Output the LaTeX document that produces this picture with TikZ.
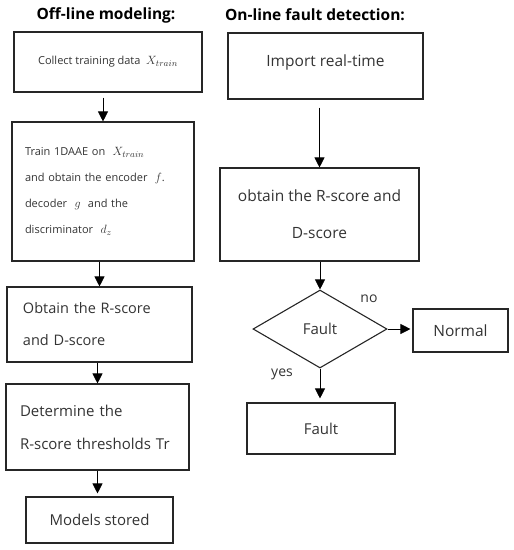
\documentclass[tikz,border=0pt]{standalone}
\usepackage{fontspec}
\setmainfont{Open Sans}
\usetikzlibrary{shapes.geometric,arrows.meta}
\newcommand{\bigmath}[1]{{\fontsize{13}{14}\selectfont$#1$}}

\begin{document}
\begin{tikzpicture}[x=1pt,y=-1pt,
  box/.style={draw=black!85,line width=1.1pt,inner sep=0pt,text=black!80},
  arr/.style={-{Triangle[length=10pt,width=10pt]},line width=0.8pt},
  title/.style={font=\fontsize{15.5}{18}\selectfont\bfseries}]
\useasboundingbox (0,0) rectangle (514,550);

\node[title] (offtitle) at (106,15) {Off-line modeling:};
\node[title] (ontitle) at (315,15) {On-line fault detection:};

% off-line modeling
\node[box,minimum width=188pt,minimum height=60pt,font=\fontsize{11}{13}\selectfont] (collect) at (108,62) {Collect training data \ \bigmath{X_{train}}};
\node[box,minimum width=182pt,minimum height=139pt,text width=156pt,align=left,font=\fontsize{11}{26}\selectfont] (train) at (103,191.5) {Train 1DAAE on \ \bigmath{X_{train}}\\and obtain the encoder \ \bigmath{f}.\\decoder \ \bigmath{g} \ and the\\discriminator \ \bigmath{d_z}};
\node[box,minimum width=185pt,minimum height=75pt,text width=153pt,align=left,font=\fontsize{14.5}{32}\selectfont] (rdscore) at (99.5,324.5) {Obtain the R-score\\and D-score};
\node[box,minimum width=183pt,minimum height=86pt,text width=155pt,align=left,font=\fontsize{15}{33}\selectfont] (thresh) at (97.5,427) {Determine the\\R-score thresholds Tr};
\node[box,minimum width=147pt,minimum height=46pt,font=\fontsize{15}{18}\selectfont] (stored) at (99.5,520) {Models stored};

% on-line fault detection
\node[box,minimum width=195pt,minimum height=66pt,text depth=10pt,font=\fontsize{15.5}{18}\selectfont] (import) at (325.5,66) {Import real-time};
\node[box,minimum width=199pt,minimum height=93pt,align=center,font=\fontsize{15.5}{37}\selectfont] (online) at (319.5,214.5) {obtain the R-score and\\D-score};
\node[box,diamond,minimum width=134pt,minimum height=78pt,font=\fontsize{15}{18}\selectfont] (fault) at (320,329) {Fault};
\node[box,minimum width=95pt,minimum height=43pt,font=\fontsize{15.5}{18}\selectfont] (normal) at (460.5,330.5) {Normal};
\node[box,minimum width=148pt,minimum height=51pt,font=\fontsize{15}{18}\selectfont] (faultout) at (321,428.5) {Fault};
\node[text=black!80,font=\fontsize{14}{16}\selectfont] (no) at (369,299) {no};
\node[text=black!80,font=\fontsize{14}{16}\selectfont] (yes) at (282,374) {yes};

\draw[arr,shorten <=5pt] (train.north |- collect.south) -- (train.north);
\draw[arr] (rdscore.north |- train.south) -- (rdscore.north);
\draw[arr] (thresh.north |- rdscore.south) -- (thresh.north);
\draw[arr,shorten >=3pt] (thresh.south) -- (thresh.south |- stored.north);

\draw[arr,shorten <=8pt] (online.north |- import.south) -- (online.north);
\draw[arr] (fault.north |- online.south) -- (fault.north);
\draw[arr,shorten >=2pt] (fault.east) -- (fault.east -| normal.west);
\draw[arr,shorten >=4pt] (fault.south) -- (fault.south |- faultout.north);
\end{tikzpicture}
\end{document}
